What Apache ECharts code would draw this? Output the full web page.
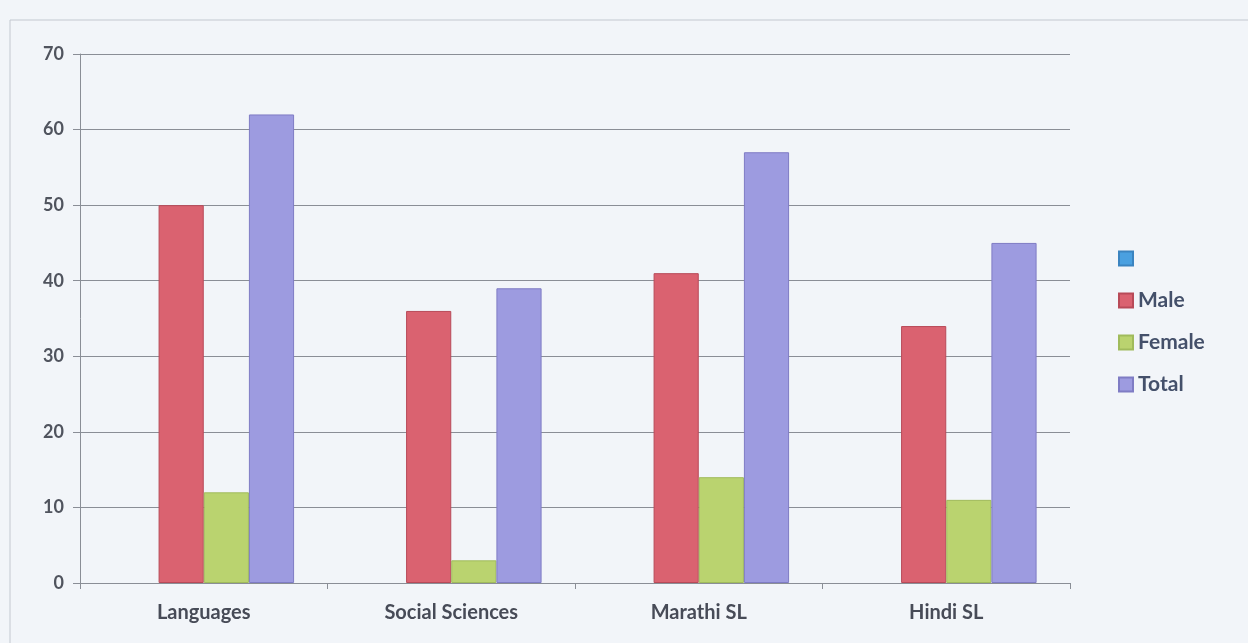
<!DOCTYPE html>
<html>
<head>
<meta charset="utf-8">
<script src="https://cdn.jsdelivr.net/npm/echarts@6/dist/echarts.min.js"></script>
<style>
html,body{margin:0;padding:0;background:#f2f5f9;}
#chart{width:1248px;height:643px;}
</style>
</head>
<body>
<div id="chart"></div>
<script>
const categories = ['Languages', 'Social Sciences', 'Marathi SL', 'Hindi SL'];
const blankSeries = [null, null, null, null];
const maleValues = [50, 36, 41, 34];
const femaleValues = [12, 3, 14, 11];
const totalValues = [62, 39, 57, 45];
const yTicks = { min: 0, max: 70, interval: 10 };

const chart = echarts.init(document.getElementById('chart'));
const font = 'Lato, "Open Sans", sans-serif';
function bar(name, data, color, border) {
  return {
    name: name, type: 'bar', data: data,
    barGap: '0%', barCategoryGap: '27%',
    itemStyle: { color: color, borderColor: border, borderWidth: 1 }
  };
}
chart.setOption({
  backgroundColor: '#f2f5f9',
  animation: false,
  textStyle: { fontFamily: font },
  graphic: [{
    type: 'rect', shape: { x: 10, y: 20, width: 1240, height: 640 },
    style: { fill: 'none', stroke: '#c3c8d0', lineWidth: 1 }, silent: true
  }],
  grid: { left: 80, right: 178, top: 54, bottom: 60 },
  legend: {
    orient: 'vertical', left: 1113, top: 243, itemGap: 21,
    itemWidth: 14, itemHeight: 14, icon: 'rect',
    textStyle: { fontFamily: font, fontSize: 21, fontWeight: 'bold', color: '#44506a' },
    data: [' ', 'Male', 'Female', 'Total']
  },
  xAxis: {
    type: 'category', data: categories,
    axisLine: { lineStyle: { color: '#8a8e96' } },
    axisTick: { show: true, length: 6, lineStyle: { color: '#8a8e96' } },
    axisLabel: { fontSize: 20, fontWeight: 'bold', color: '#474b57', margin: 20, fontFamily: font }
  },
  yAxis: {
    type: 'value', min: yTicks.min, max: yTicks.max, interval: yTicks.interval,
    axisLine: { show: true, lineStyle: { color: '#8a8e96' } },
    axisTick: { show: true, length: 7, lineStyle: { color: '#8a8e96' } },
    axisLabel: { fontSize: 18, fontWeight: 'bold', color: '#50545e', margin: 16, fontFamily: font },
    splitLine: { lineStyle: { color: '#8a8e96', width: 1 } }
  },
  series: [
    bar(' ', blankSeries, '#4aa0e0', '#3b84c0'),
    bar('Male', maleValues, '#da6270', '#b84a58'),
    bar('Female', femaleValues, '#bad36f', '#a0bb5c'),
    bar('Total', totalValues, '#9d9be0', '#7f7cc4')
  ]
});
</script>
</body>
</html>
